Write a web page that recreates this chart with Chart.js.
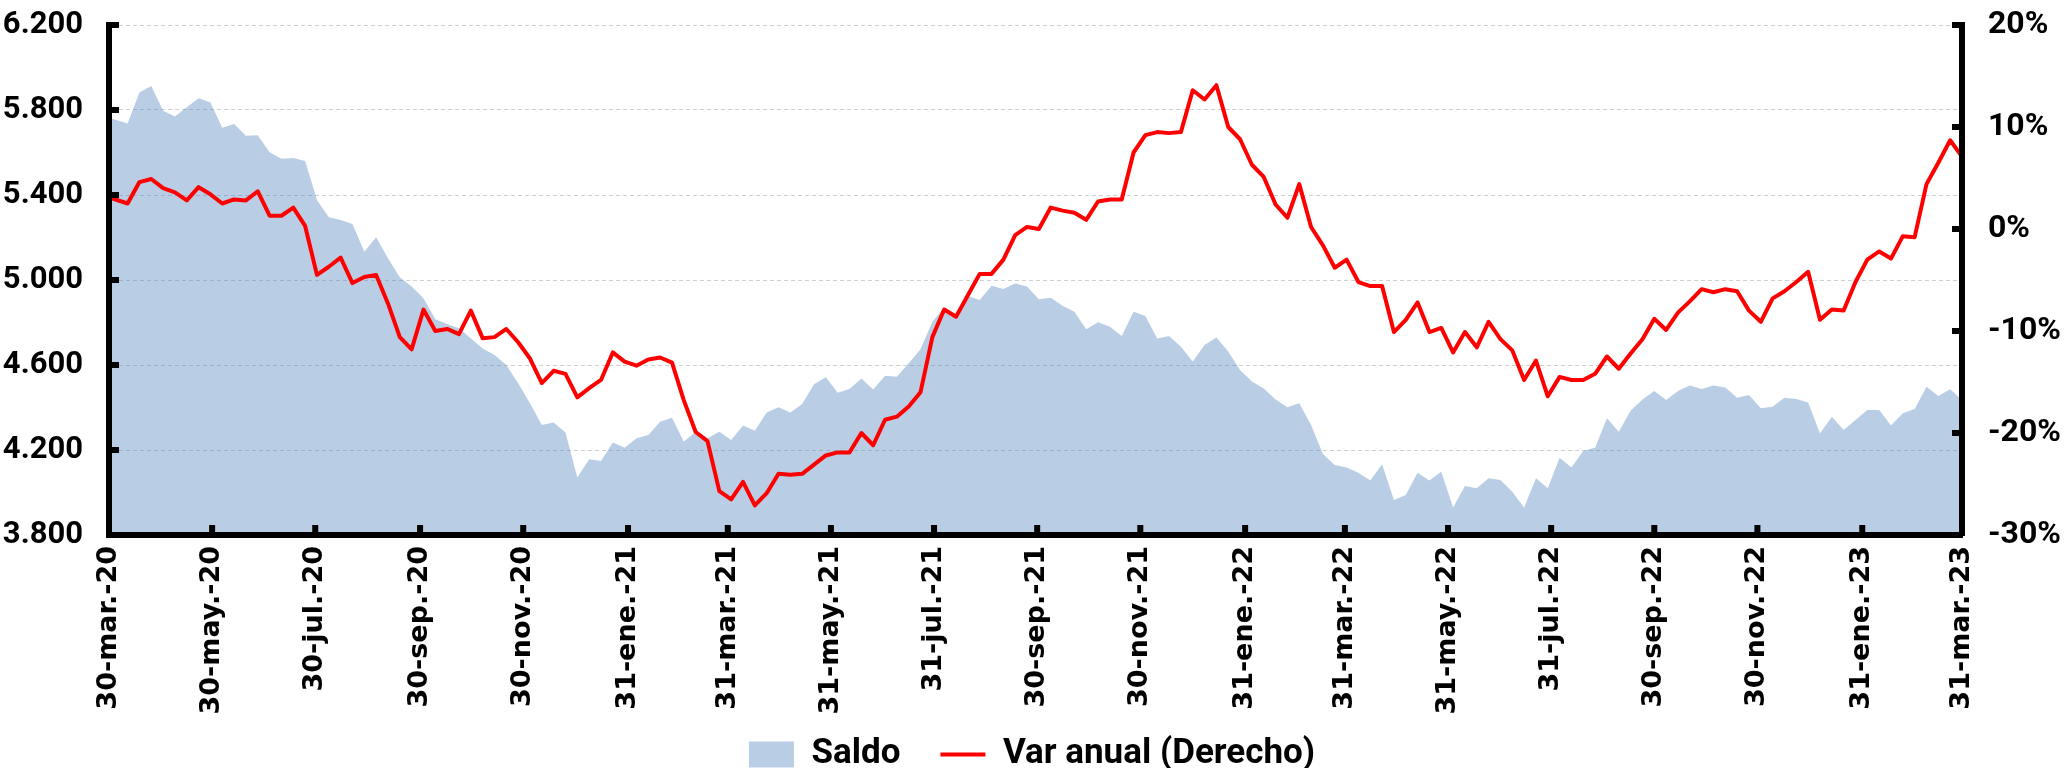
<!DOCTYPE html>
<html lang="es">
<head>
<meta charset="utf-8">
<title>Saldo y variación anual</title>
<script src="https://cdn.jsdelivr.net/npm/chart.js@4.4.1/dist/chart.umd.min.js"></script>
<style>
  html, body { margin: 0; padding: 0; background: #ffffff; }
  #wrap { width: 2064px; height: 768px; }
</style>
</head>
<body>
<div id="wrap"><canvas id="chart" width="2064" height="768"></canvas></div>
<script>
// Observation dates: first reading, then weekly (Fridays) to the last reading
const firstDate = '2020-03-30';
const weeklyFrom = '2020-04-10';
const weeklyTo = '2023-03-31';

// Saldo (left axis)
const saldo = [
  5764, 5737, 5882, 5913, 5797, 5769, 5813, 5855, 5835, 5717, 5734, 5679, 5681, 5601, 5571, 5574,
  5560, 5376, 5295, 5282, 5264, 5133, 5201, 5102, 5013, 4969, 4914, 4815, 4793, 4773, 4726, 4678,
  4647, 4600, 4514, 4420, 4318, 4329, 4282,
  4071, 4156, 4148, 4235, 4211, 4255, 4271, 4333, 4352, 4239, 4286, 4255, 4286, 4247, 4315, 4291,
  4377, 4401, 4376, 4417, 4509, 4542, 4470, 4487, 4537, 4485, 4550, 4545, 4608, 4674, 4804, 4871,
  4840, 4925, 4906, 4973, 4958, 4984, 4969,
  4909, 4917, 4879, 4851, 4768, 4801, 4780, 4736, 4851, 4831, 4725, 4736, 4686, 4616, 4694, 4729,
  4663, 4576, 4522, 4490, 4438, 4401, 4420, 4318, 4181, 4129, 4118, 4093, 4056, 4133, 3965, 3988,
  4093, 4056, 4098, 3930, 4031, 4020, 4067,
  4059, 4004, 3930, 4067, 4020, 4164, 4118, 4197, 4211, 4349, 4286, 4385, 4438, 4478, 4435, 4478,
  4503, 4487, 4503, 4494, 4446, 4459, 4396, 4404, 4446, 4440, 4423, 4278, 4357, 4294, 4341, 4388,
  4388, 4315, 4373, 4393, 4498, 4454, 4486, 4435
];

// Var anual, % (right axis)
const varAnual = [
  3.1, 2.5, 4.6, 4.9, 4.0, 3.6, 2.8, 4.1, 3.4, 2.5, 2.9, 2.8, 3.7, 1.3, 1.3, 2.1,
  0.3, -4.5, -3.7, -2.8, -5.3, -4.7, -4.5, -7.3, -10.6, -11.8, -7.9, -10.0, -9.8, -10.3, -8.0, -10.7,
  -10.6, -9.8, -11.1, -12.7, -15.1, -13.9, -14.2,
  -16.5, -15.6, -14.8, -12.1, -13.0, -13.4, -12.8, -12.6, -13.1, -16.8, -19.9, -20.8, -25.7, -26.5, -24.8, -27.1,
  -25.9, -24.0, -24.1, -24.0, -23.1, -22.2, -21.9, -21.9, -20.0, -21.2, -18.7, -18.4, -17.4, -16.0, -10.6, -7.9,
  -8.6, -6.5, -4.4, -4.4, -3.0, -0.6, 0.2,
  0.0, 2.1, 1.8, 1.6, 0.9, 2.7, 2.9, 2.9, 7.5, 9.2, 9.5, 9.4, 9.5, 13.6, 12.7, 14.1,
  10.0, 8.8, 6.3, 5.1, 2.4, 1.1, 4.4, 0.2, -1.6, -3.8, -3.0, -5.2, -5.6, -5.6, -10.1, -8.9,
  -7.2, -10.1, -9.7, -12.1, -10.1, -11.6, -9.1,
  -10.8, -11.9, -14.8, -12.9, -16.4, -14.5, -14.8, -14.8, -14.2, -12.5, -13.7, -12.2, -10.8, -8.8, -9.9, -8.2,
  -7.1, -5.9, -6.2, -5.9, -6.1, -8.0, -9.1, -6.8, -6.1, -5.2, -4.2, -8.9, -7.9, -8.0, -5.2, -3.0,
  -2.2, -2.9, -0.7, -0.8, 4.4, 6.5, 8.7, 7.1
];

// Axis ticks
const tickDates = [
  '2020-03-30', '2020-05-30', '2020-07-30', '2020-09-30', '2020-11-30', '2021-01-31', '2021-03-31',
  '2021-05-31', '2021-07-31', '2021-09-30', '2021-11-30', '2022-01-31', '2022-03-31', '2022-05-31',
  '2022-07-31', '2022-09-30', '2022-11-30', '2023-01-31', '2023-03-31'
];
const tickLabels = [
  '30-mar.-20', '30-may.-20', '30-jul.-20', '30-sep.-20', '30-nov.-20', '31-ene.-21', '31-mar.-21',
  '31-may.-21', '31-jul.-21', '30-sep.-21', '30-nov.-21', '31-ene.-22', '31-mar.-22', '31-may.-22',
  '31-jul.-22', '30-sep.-22', '30-nov.-22', '31-ene.-23', '31-mar.-23'
];
const saldoTicks = [3800, 4200, 4600, 5000, 5400, 5800, 6200];
const varTicks = [-30, -20, -10, 0, 10, 20];

const DAY = 86400000;
const toTime = s => Date.parse(s + 'T00:00:00Z');
const dayOf = s => Math.round((toTime(s) - toTime(firstDate)) / DAY);

const obsDays = [0];
for (let t = toTime(weeklyFrom); t <= toTime(weeklyTo); t += 7 * DAY) {
  obsDays.push(Math.round((t - toTime(firstDate)) / DAY));
}
const tickDays = tickDates.map(dayOf);

const areaColor = 'rgba(79, 129, 189, 0.4)';
const lineColor = '#FF0000';
const labelFamily = "Roboto, 'Liberation Sans', Arial, sans-serif";
const dateFamily = "'DejaVu Sans', Verdana, sans-serif";

const thousands = v => String(v).replace(/\B(?=(\d{3})+(?!\d))/g, '.');

// Short black tick marks drawn on the inner side of each axis
const insideTicks = {
  id: 'insideTicks',
  afterDraw(chart) {
    const { ctx, chartArea: a, scales } = chart;
    const len = 10;
    ctx.save();
    ctx.strokeStyle = '#000';
    ctx.lineWidth = 6;
    ctx.lineCap = 'butt';
    ctx.beginPath();
    scales.y.ticks.forEach(t => {
      const y = scales.y.getPixelForValue(t.value);
      ctx.moveTo(a.left, y); ctx.lineTo(a.left + len, y);
    });
    scales.y2.ticks.forEach(t => {
      const y = scales.y2.getPixelForValue(t.value);
      ctx.moveTo(a.right - len, y); ctx.lineTo(a.right, y);
    });
    scales.x.ticks.forEach(t => {
      const x = scales.x.getPixelForValue(t.value);
      ctx.moveTo(x, a.bottom); ctx.lineTo(x, a.bottom - len);
    });
    ctx.stroke();
    ctx.restore();
  }
};

Chart.defaults.color = '#000';

new Chart(document.getElementById('chart'), {
  type: 'line',
  data: {
    datasets: [
      {
        label: 'Saldo',
        data: saldo.map((v, i) => ({ x: obsDays[i], y: v })),
        yAxisID: 'y',
        fill: 'start',
        backgroundColor: areaColor,
        borderColor: 'rgba(0,0,0,0)',
        borderWidth: 0,
        pointRadius: 0,
        tension: 0,
        order: 2
      },
      {
        label: 'Var anual (Derecho)',
        data: varAnual.map((v, i) => ({ x: obsDays[i], y: v })),
        yAxisID: 'y2',
        fill: false,
        borderColor: lineColor,
        backgroundColor: lineColor,
        borderWidth: 4,
        borderJoinStyle: 'round',
        pointRadius: 0,
        tension: 0,
        order: 1
      }
    ]
  },
  options: {
    responsive: false,
    animation: false,
    devicePixelRatio: 1,
    layout: { padding: { top: 25, left: 0, right: 0, bottom: -14 } },
    plugins: {
      tooltip: { enabled: false },
      legend: {
        position: 'bottom',
        labels: {
          usePointStyle: true,
          pointStyleWidth: 45,
          boxHeight: 26,
          padding: 40,
          color: '#000',
          font: { family: labelFamily, weight: 'bold', size: 35 },
          generateLabels: () => [
            { text: 'Saldo', fillStyle: areaColor, strokeStyle: areaColor, lineWidth: 0,
              pointStyle: 'rect', datasetIndex: 0, hidden: false, fontColor: '#000' },
            { text: 'Var anual (Derecho)', fillStyle: lineColor, strokeStyle: lineColor, lineWidth: 4,
              pointStyle: 'line', datasetIndex: 1, hidden: false, fontColor: '#000' }
          ]
        }
      }
    },
    scales: {
      x: {
        type: 'linear',
        min: 0,
        max: dayOf(weeklyTo),
        afterBuildTicks: s => { s.ticks = tickDays.map(v => ({ value: v })); },
        ticks: {
          autoSkip: false,
          minRotation: 90,
          maxRotation: 90,
          padding: 11,
          color: '#000',
          font: { family: dateFamily, weight: 'bold', size: 27 },
          callback: (v, i) => tickLabels[i]
        },
        grid: { display: false, drawTicks: false },
        border: { display: true, color: '#000', width: 6, z: 1 },
        afterFit: s => {
          s.height = 162;
          // date labels may run past the axis box into the space above the legend
          s._computeLabelArea = () => undefined;
        }
      },
      y: {
        position: 'left',
        min: 3800,
        max: 6200,
        afterBuildTicks: s => { s.ticks = saldoTicks.map(v => ({ value: v })); },
        ticks: {
          padding: 26,
          color: '#000',
          font: { family: labelFamily, weight: 'bold', size: 31 },
          callback: v => thousands(v)
        },
        grid: { color: '#CFCFCF', lineWidth: 1, drawTicks: false },
        border: { display: true, color: '#000', width: 6, dash: [4, 3], z: 1 },
        afterFit: s => { s.width = 109; s.paddingTop = 0; s.paddingBottom = 0; }
      },
      y2: {
        position: 'right',
        min: -30,
        max: 20,
        afterBuildTicks: s => { s.ticks = varTicks.map(v => ({ value: v })); },
        ticks: {
          padding: 26,
          color: '#000',
          font: { family: labelFamily, weight: 'bold', size: 32 },
          callback: v => v + '%'
        },
        grid: { display: false, drawTicks: false },
        border: { display: true, color: '#000', width: 6, z: 1 },
        afterFit: s => { s.width = 102; s.paddingTop = 0; s.paddingBottom = 0; }
      }
    }
  },
  plugins: [insideTicks]
});
</script>
</body>
</html>
